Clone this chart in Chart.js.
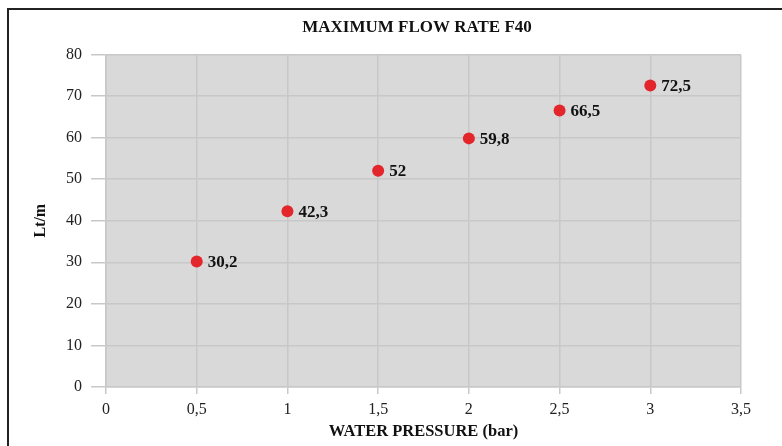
<!DOCTYPE html>
<html>
<head>
<meta charset="utf-8">
<script src="https://cdn.jsdelivr.net/npm/chart.js@4/dist/chart.umd.min.js"></script>
<style>
  html, body { margin: 0; padding: 0; background: #fff; overflow: hidden; width: 782px; height: 446px; }
  #frame { position: absolute; left: 7px; top: 8px; width: 900px; height: 600px; border-left: 2px solid #222; border-top: 2px solid #222; }
  #wrap { position: absolute; left: 0; top: 0; width: 834px; height: 446px; }
</style>
</head>
<body>
<div id="frame"></div>
<div id="wrap"><canvas id="flowChart" width="834" height="446"></canvas></div>
<script>
// data
const pressure = [0.5, 1, 1.5, 2, 2.5, 3];          // bar
const flow = [30.2, 42.3, 52, 59.8, 66.5, 72.5];    // Lt/m
const xRange = [0, 3.5];
const yRange = [0, 80];

const SERIF = '"Liberation Serif", "Times New Roman", serif';
const GRID = '#c8c8c8';

function comma(v) {
    return String(v).replace('.', ',');
}

// gray plot background
const plotBg = {
    id: 'plotBg',
    beforeDraw(chart) {
        const a = chart.chartArea;
        const ctx = chart.ctx;
        ctx.save();
        ctx.fillStyle = '#d9d9d9';
        ctx.fillRect(a.left, a.top, a.right - a.left, a.bottom - a.top);
        ctx.restore();
    }
};

// value labels next to each point
const pointLabels = {
    id: 'pointLabels',
    afterDatasetsDraw(chart) {
        const ctx = chart.ctx;
        const meta = chart.getDatasetMeta(0);
        ctx.save();
        ctx.font = 'bold 17px ' + SERIF;
        ctx.fillStyle = '#111';
        ctx.textAlign = 'left';
        ctx.textBaseline = 'middle';
        meta.data.forEach((pt, i) => {
            ctx.fillText(comma(flow[i]), pt.x + 11, pt.y + 1);
        });
        ctx.restore();
    }
};

const ctx = document.getElementById('flowChart').getContext('2d');
new Chart(ctx, {
    type: 'scatter',
    data: {
        datasets: [{
            label: 'F40',
            data: pressure.map((p, i) => ({ x: p, y: flow[i] })),
            backgroundColor: '#e3262c',
            borderWidth: 0,
            pointRadius: 6,
            pointHoverRadius: 6
        }]
    },
    options: {
        responsive: false,
        animation: false,
        devicePixelRatio: 1,
        layout: { padding: 0 },
        plugins: {
            legend: { display: false },
            tooltip: { enabled: false },
            title: {
                display: true,
                text: 'MAXIMUM FLOW RATE F40',
                color: '#111',
                font: { family: SERIF, size: 17, weight: 'bold' },
                padding: { top: 17, bottom: 17 }
            }
        },
        scales: {
            x: {
                type: 'linear',
                min: xRange[0],
                max: xRange[1],
                afterFit(scale) { scale.height = 59; },
                ticks: {
                    stepSize: 0.5,
                    color: '#222',
                    padding: 6,
                    font: { family: SERIF, size: 16 },
                    callback: v => comma(v)
                },
                grid: { color: GRID, lineWidth: 1.5, tickLength: 7 },
                border: { color: GRID, width: 1.5 },
                title: {
                    display: true,
                    text: 'WATER PRESSURE (bar)',
                    color: '#111',
                    font: { family: SERIF, size: 16.5, weight: 'bold' },
                    padding: { top: 0, bottom: 4 }
                }
            },
            y: {
                min: yRange[0],
                max: yRange[1],
                afterFit(scale) { scale.width = 106; },
                ticks: {
                    stepSize: 10,
                    color: '#222',
                    padding: 9,
                    font: { family: SERIF, size: 16 }
                },
                grid: { color: GRID, lineWidth: 1.5, tickLength: 15 },
                border: { color: GRID, width: 1.5 },
                title: {
                    display: true,
                    text: 'Lt/m',
                    color: '#111',
                    font: { family: SERIF, size: 16, weight: 'bold' },
                    padding: { top: 31, bottom: 0 }
                }
            },
            // empty right-hand margin so the title centres like the original
            spacer: {
                position: 'right',
                min: yRange[0],
                max: yRange[1],
                afterFit(scale) { scale.width = 93; },
                ticks: { display: false },
                grid: { display: false, drawOnChartArea: false },
                border: { display: false }
            }
        }
    },
    plugins: [plotBg, pointLabels]
});
</script>
</body>
</html>
